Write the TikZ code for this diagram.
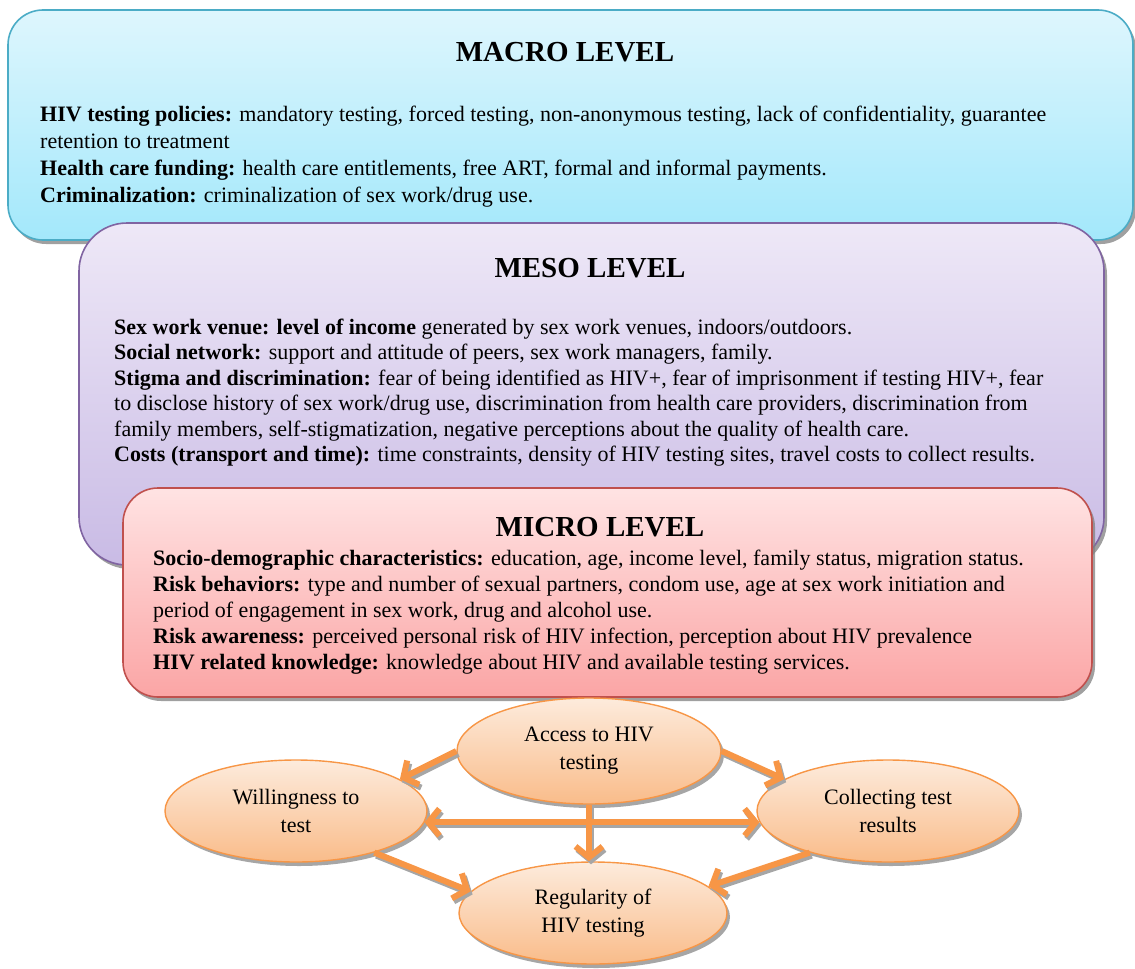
\documentclass[tikz,border=0pt]{standalone}
\usepackage{fontspec}
\setmainfont{Liberation Serif}
\usetikzlibrary{shapes.geometric,shadows,arrows.meta}
\definecolor{macroTop}{HTML}{DEF6FD}
\definecolor{macroBot}{HTML}{A3E8FB}
\definecolor{macroLine}{HTML}{4BACC6}
\definecolor{mesoTop}{HTML}{EEE8F7}
\definecolor{mesoBot}{HTML}{C9BBE5}
\definecolor{mesoLine}{HTML}{8064A2}
\definecolor{microTop}{HTML}{FFE3E3}
\definecolor{microBot}{HTML}{FBA5A5}
\definecolor{microLine}{HTML}{C0504D}
\definecolor{ellTop}{HTML}{FDEBDC}
\definecolor{ellBot}{HTML}{F9BC8A}
\definecolor{ellLine}{HTML}{F79646}
\definecolor{arrCol}{HTML}{F79646}
\tikzset{
  lvlbox/.style={draw, line width=1.6pt, rounded corners=#1, shading=axis, inner sep=0pt,
    drop shadow={shadow xshift=3pt, shadow yshift=-4pt, fill=black!50, opacity=0.75}},
  lvltitle/.style={font=\fontsize{29}{34}\selectfont\bfseries, inner sep=0pt, anchor=base},
  lvltext/.style={font=\fontsize{22}{26}\selectfont, inner sep=0pt, anchor=base west},
  oval/.style={ellipse, draw=ellLine, line width=1.4pt, shading=axis, top color=ellTop, bottom color=ellBot,
    inner sep=0pt, align=center, font=\fontsize{22}{28}\selectfont,
    drop shadow={shadow xshift=3pt, shadow yshift=-4pt, fill=black!50, opacity=0.7}},
  tipA/.tip={Straight Barb[length=11pt,width=27pt]},
  arr/.style={draw=arrCol, line width=6pt, -tipA},
  arrsh/.style={draw=black!35, line width=6pt, -tipA,
    transform canvas={xshift=2pt,yshift=-3pt}},
  darr/.style={draw=arrCol, line width=6pt, tipA-tipA},
  darrsh/.style={draw=black!35, line width=6pt, tipA-tipA,
    transform canvas={xshift=2pt,yshift=-3pt}},
}
\begin{document}
\begin{tikzpicture}[x=1pt,y=-1pt]
\useasboundingbox (0,0) rectangle (1135,969);

% MACRO
\node[lvlbox=35pt, draw=macroLine, top color=macroTop, bottom color=macroBot,
  minimum width=1125pt, minimum height=230pt] (macro) at (570.5,125) {};
\node[lvltitle] (macroT) at (565,61.5) {MACRO LEVEL};
\node[lvltext] (ma1) at (40,121) {\textbf{HIV testing policies:} mandatory testing, forced testing, non-anonymous testing, lack of confidentiality, guarantee};
\node[lvltext] (ma2) at (40,148) {retention to treatment};
\node[lvltext] (ma3) at (40,175) {\textbf{Health care funding:} health care entitlements, free ART, formal and informal payments.};
\node[lvltext] (ma4) at (40,202) {\textbf{Criminalization:} criminalization of sex work/drug use.};

% MESO
\node[lvlbox=48pt, draw=mesoLine, top color=mesoTop, bottom color=mesoBot,
  minimum width=1025pt, minimum height=342pt] (meso) at (591.5,394) {};
\node[lvltitle] (mesoT) at (590,277) {MESO LEVEL};
\node[lvltext] (me1) at (114,334) {\textbf{Sex work venue: level of income} generated by sex work venues, indoors/outdoors.};
\node[lvltext] (me2) at (114,359.5) {\textbf{Social network:} support and attitude of peers, sex work managers, family.};
\node[lvltext] (me3) at (114,385) {\textbf{Stigma and discrimination:} fear of being identified as HIV+, fear of imprisonment if testing HIV+, fear};
\node[lvltext] (me4) at (114,410.5) {to disclose history of sex work/drug use, discrimination from health care providers, discrimination from};
\node[lvltext] (me5) at (114,436) {family members, self-stigmatization, negative perceptions about the quality of health care.};
\node[lvltext] (me6) at (114,461.5) {\textbf{Costs (transport and time):} time constraints, density of HIV testing sites, travel costs to collect results.};

% MICRO
\node[lvlbox=35pt, draw=microLine, top color=microTop, bottom color=microBot,
  minimum width=969pt, minimum height=209pt] (micro) at (607.5,592.5) {};
\node[lvltitle] (microT) at (600,536) {MICRO LEVEL};
\node[lvltext] (mi1) at (153,565) {\textbf{Socio-demographic characteristics:} education, age, income level, family status, migration status.};
\node[lvltext] (mi2) at (153,591) {\textbf{Risk behaviors:} type and number of sexual partners, condom use, age at sex work initiation and};
\node[lvltext] (mi3) at (153,617) {period of engagement in sex work, drug and alcohol use.};
\node[lvltext] (mi4) at (153,643) {\textbf{Risk awareness:} perceived personal risk of HIV infection, perception about HIV prevalence};
\node[lvltext] (mi5) at (153,669) {\textbf{HIV related knowledge:} knowledge about HIV and available testing services.};

% OVALS
\node[oval, minimum width=264pt, minimum height=106pt] (acc) at (589,751) {Access to HIV\\testing};
\node[oval, minimum width=262pt, minimum height=102pt] (will) at (296,811) {Willingness to\\test};
\node[oval, minimum width=262pt, minimum height=102pt] (coll) at (888,811) {Collecting test\\results};
\node[oval, minimum width=268pt, minimum height=102pt] (reg) at (593,913) {Regularity of\\HIV testing};

% ARROWS (shadow first, then arrow)
\foreach \st/\dst in {arrsh/darrsh, arr/darr} {
  \draw[\st] (acc.west) -- (will.17);
  \draw[\st] (acc.east) -- (coll.163);
  \draw[\st] (will.-28) -- (reg.170);
  \draw[\st] (coll.208) -- (reg.13);
  \draw[\dst] (will.-5) -- (coll.185);
  \draw[\st] (acc.south) -- (acc.south |- reg.north);
}
\end{tikzpicture}
\end{document}
